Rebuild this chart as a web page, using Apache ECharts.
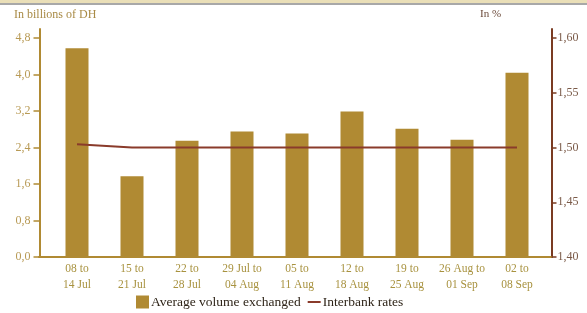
<!DOCTYPE html>
<html>
<head>
<meta charset="utf-8">
<script src="https://cdn.jsdelivr.net/npm/echarts@6/dist/echarts.min.js"></script>
<style>
  html, body { margin: 0; padding: 0; background: #fff; }
  #chart { width: 587px; height: 313px; }
</style>
</head>
<body>
<div id="chart"></div>
<script>
var weeks = ['08 to\n14 Jul', '15 to\n21 Jul', '22 to\n28 Jul', '29 Jul to\n04 Aug', '05 to\n11 Aug',
             '12 to\n18 Aug', '19 to\n25 Aug', '26 Aug to\n01 Sep', '02 to\n08 Sep'];
var volume = [4.58, 1.77, 2.55, 2.75, 2.71, 3.19, 2.81, 2.57, 4.04];
var rates = [1.503, 1.50, 1.50, 1.50, 1.50, 1.50, 1.50, 1.50, 1.50];
var volTicks = [0, 0.8, 1.6, 2.4, 3.2, 4.0, 4.8];
var rateTicks = [1.40, 1.45, 1.50, 1.55, 1.60];

var gold = '#b08a33';
var brown = '#7a3b22';
var font = 'Liberation Serif';

var myChart = echarts.init(document.getElementById('chart'));

var option = {
  animation: false,
  textStyle: { fontFamily: font },
  graphic: [
    { type: 'rect', shape: { x: 0, y: 0, width: 587, height: 3 }, style: { fill: '#eadfb8' } },
    { type: 'rect', shape: { x: 0, y: 3, width: 587, height: 2 }, style: { fill: '#a8a8a8' } },
    { type: 'text', left: 14, top: 9, style: { text: 'In billions of DH', fill: '#a88a45', font: '12px ' + font } },
    { type: 'text', left: 480, top: 9, style: { text: 'In %', fill: '#6b4a3a', font: '11px ' + font } }
  ],
  legend: {
    top: 295,
    left: 136,
    padding: 0,
    itemWidth: 13,
    itemHeight: 13,
    itemGap: 6,
    textStyle: { fontFamily: font, fontSize: 13.5, color: '#2e2418', padding: [0, 0, 0, -3] },
    data: [
      { name: 'Average volume exchanged', icon: 'rect' },
      { name: 'Interbank rates', itemStyle: { opacity: 0 } }
    ]
  },
  grid: [
    { left: 49.5, right: 42.5, top: 29, bottom: 56 },
    { left: 39, right: 35.5, top: 29, bottom: 56 }
  ],
  xAxis: [
    {
      type: 'category',
      gridIndex: 0,
      data: weeks,
      axisLine: { show: false },
      axisTick: { show: false },
      axisLabel: { color: '#a8923f', fontSize: 11.5, lineHeight: 16, margin: 4, interval: 0 }
    },
    {
      type: 'value',
      gridIndex: 1,
      min: 0,
      max: 1,
      axisLine: { show: true, onZero: false, lineStyle: { color: gold, width: 2 } },
      axisTick: { show: false },
      axisLabel: { show: false },
      splitLine: { show: false }
    }
  ],
  yAxis: [
    {
      type: 'value',
      gridIndex: 0,
      min: 0,
      max: 5.0,
      offset: 10,
      position: 'left',
      axisLine: { show: true, lineStyle: { color: gold, width: 2 } },
      axisTick: { show: true, length: 6, customValues: volTicks, lineStyle: { color: gold, width: 1.5 } },
      axisLabel: {
        customValues: volTicks, color: '#b89a55', fontSize: 12, margin: 9,
        formatter: function (v) { return v.toFixed(1).replace('.', ','); }
      },
      splitLine: { show: false }
    },
    {
      type: 'value',
      gridIndex: 0,
      min: 1.40,
      max: 1.6083,
      offset: 7,
      position: 'right',
      axisLine: { show: true, lineStyle: { color: brown, width: 2 } },
      axisTick: { show: true, length: 5, customValues: rateTicks, lineStyle: { color: brown, width: 1.5 } },
      axisLabel: {
        customValues: rateTicks, color: '#7a5a48', fontSize: 12, margin: 6,
        formatter: function (v) { return v.toFixed(2).replace('.', ','); }
      },
      splitLine: { show: false }
    },
    {
      type: 'value',
      gridIndex: 1,
      min: 0,
      max: 1,
      show: false
    }
  ],
  series: [
    {
      name: 'Average volume exchanged',
      type: 'bar',
      xAxisIndex: 0,
      yAxisIndex: 0,
      barWidth: 23,
      itemStyle: { color: gold },
      data: volume
    },
    {
      name: 'Interbank rates',
      type: 'line',
      xAxisIndex: 0,
      yAxisIndex: 1,
      symbol: 'none',
      lineStyle: { color: '#8a3b2b', width: 2 },
      itemStyle: { color: '#8a3b2b' },
      data: rates
    }
  ]
};
myChart.setOption(option);
</script>
</body>
</html>
